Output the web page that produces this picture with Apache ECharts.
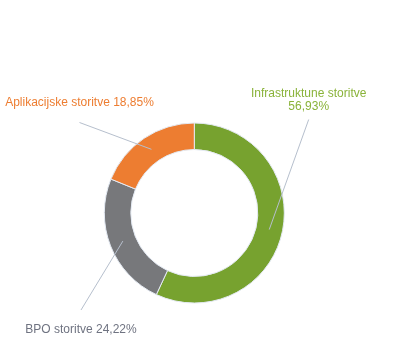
<!DOCTYPE html>
<html>
<head>
<meta charset="utf-8">
<style>
  html, body { margin: 0; padding: 0; background: #ffffff; }
  #chart { width: 393px; height: 356px; }
</style>
<script src="https://cdn.jsdelivr.net/npm/echarts@6/dist/echarts.min.js"></script>
</head>
<body>
<div id="chart"></div>
<script>
// ---- data ----
var categories = ['Infrastruktune storitve', 'BPO storitve', 'Aplikacijske storitve'];
var values = [56.93, 24.22, 18.85];
var sliceColors = ['#77a22f', '#77787b', '#ed7d31'];
var labelColors = ['#8ab33a', '#6f7381', '#ed7d31'];

// ---- layout (positions, not data) ----
var CX = 194.3, CY = 213, R_IN = 63.5, R_OUT = 90;
var R_MID = (R_IN + R_OUT) / 2;
var labelPos = [
  { x: 308.7, y: 100, sep: '\n', endDy: 19.5 },
  { x: 81,    y: 329.5, sep: ' ', endDy: -19.5 },
  { x: 79.5,  y: 102.5, sep: ' ', endDy: 20 }
];

var chart = echarts.init(document.getElementById('chart'), null, { renderer: 'canvas' });

var ringData = categories.map(function (name, i) {
  return { name: name, value: values[i], itemStyle: { color: sliceColors[i] } };
});
var labelData = categories.map(function (name, i) {
  return { name: name, value: values[i], label: { color: labelColors[i] } };
});

function fmtPct(v) {
  return v.toFixed(2).replace('.', ',') + '%';
}

chart.setOption({
  animation: false,
  backgroundColor: '#ffffff',
  series: [{
    type: 'pie',
    center: [CX, CY],
    radius: [R_IN, R_OUT],
    startAngle: 90,
    clockwise: true,
    silent: true,
    itemStyle: { borderColor: '#e4eaf3', borderWidth: 1 },
    label: { show: false },
    labelLine: { show: false },
    data: ringData
  }, {
    // transparent helper pie: label lines start at the middle of the ring
    type: 'pie',
    z: 3,
    center: [CX, CY],
    radius: [0, R_MID],
    startAngle: 90,
    clockwise: true,
    avoidLabelOverlap: false,
    silent: true,
    itemStyle: { color: 'rgba(0,0,0,0)', borderWidth: 0 },
    label: {
      show: true,
      position: 'outside',
      fontFamily: 'Liberation Sans, Arial, sans-serif',
      fontSize: 12,
      lineHeight: 13.5,
      align: 'center',
      formatter: function (p) {
        return p.name + labelPos[p.dataIndex].sep + fmtPct(p.value);
      }
    },
    labelLine: {
      show: true,
      length: 10,
      length2: 10,
      smooth: false,
      lineStyle: { color: '#b6bfcd', width: 1 }
    },
    labelLayout: function (params) {
      var i = params.dataIndex;
      var lp = labelPos[i];
      var pts = params.labelLinePoints;
      var start;
      if (pts && pts.length >= 1) {
        start = [pts[0][0], pts[0][1]];
      } else {
        var total = values.reduce(function (a, b) { return a + b; }, 0);
        var cum = 0;
        for (var k = 0; k < i; k++) cum += values[k];
        var mid = (cum + values[i] / 2) / total * Math.PI * 2;
        start = [CX + R_MID * Math.sin(mid), CY - R_MID * Math.cos(mid)];
      }
      var end = [lp.x, lp.y + lp.endDy];
      return {
        x: lp.x,
        y: lp.y,
        align: 'center',
        verticalAlign: 'middle',
        labelLinePoints: [start, end, end]
      };
    },
    data: labelData
  }]
});
</script>
</body>
</html>
